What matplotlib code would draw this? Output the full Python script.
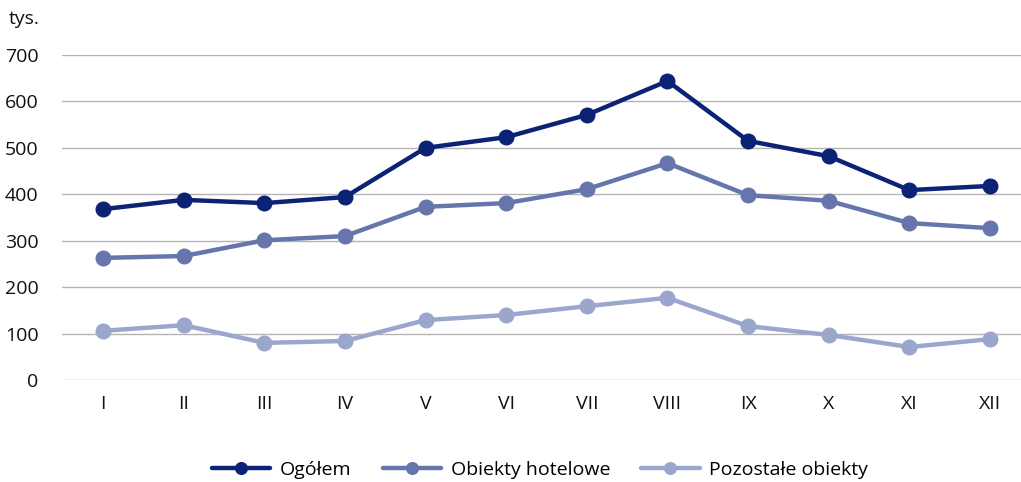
import matplotlib
matplotlib.use("Agg")
import matplotlib.pyplot as plt

months = ["I", "II", "III", "IV", "V", "VI", "VII", "VIII", "IX", "X", "XI", "XII"]
ogolem = [368, 388, 381, 394, 500, 523, 571, 644, 515, 482, 409, 418]
hotelowe = [263, 267, 301, 310, 373, 381, 411, 467, 398, 386, 338, 327]
pozostale = [106, 118, 80, 84, 129, 140, 159, 177, 116, 97, 71, 88]
series_names = ["Ogółem", "Obiekty hotelowe", "Pozostałe obiekty"]
yticks = [0, 100, 200, 300, 400, 500, 600, 700]

colors = ["#0b2275", "#6675ab", "#9ba6cc"]

plt.rcParams['font.family'] = ['Open Sans', 'DejaVu Sans']
fig = plt.figure(figsize=(10.21, 4.82), dpi=100)
ax = fig.add_axes([62/1021, (482-380)/482, 1 - 62/1021, (380-55)/482])

x = list(range(len(months)))
for vals, name, c in zip([ogolem, hotelowe, pozostale], series_names, colors):
    ax.plot(x, vals, color=c, lw=3.2, marker="o", markersize=10.5, label=name, solid_capstyle="round")

ax.set_ylim(0, 700)
ax.set_xlim(-0.51, 11.385)
ax.set_yticks(yticks)
ax.set_xticks(x)
ax.set_xticklabels(months)
ax.grid(axis="y", color="#b4b4b4", lw=1)
ax.set_axisbelow(True)
for s in ax.spines.values():
    s.set_visible(False)
ax.tick_params(axis="both", length=0, labelsize=14, colors="#111111")
ax.tick_params(axis="y", pad=17)
ax.tick_params(axis="x", pad=11)
fig.text(9/1021, 1 - 19/482, "tys.", fontsize=14, va="center", ha="left", color="#111111")

ax.legend(loc="center", bbox_to_anchor=(540/1021, 1 - 470/482), bbox_transform=fig.transFigure,
          ncol=3, frameon=False, fontsize=14, handlelength=3, columnspacing=1.6, handletextpad=0.5,
          markerscale=0.8)

fig.savefig("out.png", dpi=100)
